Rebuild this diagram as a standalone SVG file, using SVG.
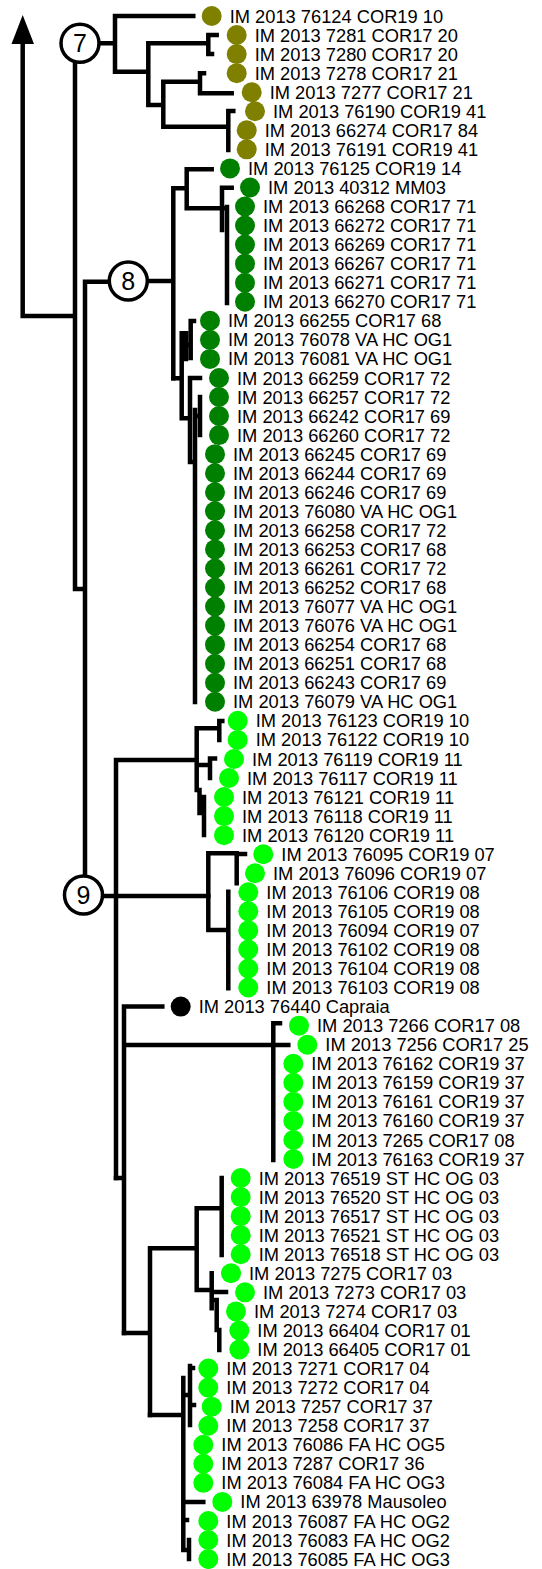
<svg xmlns="http://www.w3.org/2000/svg" width="542" height="1569" viewBox="0 0 542 1569">
<style>
.e{fill:none;stroke:#000;stroke-width:4.5;stroke-linecap:square}
.t{font-family:"Liberation Sans",Arial,sans-serif;font-size:18.3px;fill:#000}
.o{fill:#808000}.g{fill:#008000}.l{fill:#00ff00}.k{fill:#000}
.n circle{fill:#fff;stroke:#000;stroke-width:3.5}
.n text{font-family:"Liberation Sans",Arial,sans-serif;font-size:25px;text-anchor:middle;fill:#000}
</style>
<rect width="542" height="1569" fill="#fff"/>
<g id="connectors" class="e">
<path d="M22.7 316V42M22.7 316H75M75 60V589H85M85 281.7V878M85 281.7H110"/>
<polygon points="22.7,15 11.5,44 34,44" fill="#000" stroke="none"/>
<path d="M80 43.3H115M115 16V71.7M115 16H193.3M115 71.7H148.3M148.3 43.3V105M148.3 43.3H208.3M208.3 35V54.1M208.3 35H216.7M208.3 54.1H212M148.3 105H163.3M163.3 81.7V126.7M163.3 81.7H200M200 73.2V93.3M200 73.2H204M200 93.3H231.7M163.3 126.7H228.3M228.3 111V150M228.3 111H233.3"/>
<path d="M128 281H173.3M173.3 188.3V378.3M173.3 188.3H186.7M186.7 169.3V208.3M186.7 169.3H211.7M186.7 208.3H225M222 187.7V230M222 187.7H231.7M227 207V303"/>
<path d="M173.3 378.3H181.7M181.7 333.3V418.3M181.7 333.3H186M186 333.3V359M190.7 321V358M186 345H190.7M190.7 321H194M181.7 418.3H190M190 378V462M190 378H200M190 462H195M195 410V702M200 397V435M195 416H200"/>
<path d="M83 896H208.3M116 760V1178M116 760H196.7M196.7 728.3V790M196.7 728.3H219.3M219.3 721V740M219.3 721H222.3M196.7 765H210M210 758.5V778M210 758.5H215M196.7 790H199.5M199.5 790V813M204 797V835M199.5 805H204"/>
<path d="M208.3 853.3V930M208.3 853.3H236.7M236.7 853.3V883.3M236.7 854H245M208.3 930H228.3M228.3 891.7V988.3"/>
<path d="M116 1178H124M124 1006.6V1333M124 1006.6H162.3M124 1045H288.3M273.3 1023.3V1160M273.3 1023.3H280"/>
<path d="M124 1333H150M150 1248.3V1415M150 1248.3H196.7M196.7 1208.3V1290M196.7 1208.3H221.7M221.7 1178V1255M196.7 1290H211.7M211.7 1273.3V1308.3M211.7 1292H226M216.7 1300V1330M211.7 1300H216.7M219.3 1330V1350M216.7 1330H219.3"/>
<path d="M150 1415H183.3M183.3 1378V1550M190 1366V1425M183.3 1395H190M190 1368H193M190 1405H194M183.3 1502H203.3M183.3 1520H187M189 1540V1559M183.3 1550H189"/>
</g>
<g id="node7" class="n"><circle cx="80" cy="43.3" r="19"/><text x="80" y="52.3">7</text></g>
<g id="node8" class="n"><circle cx="128.3" cy="281" r="19"/><text x="128.3" y="290">8</text></g>
<g id="node9" class="n"><circle cx="83.5" cy="895" r="19"/><text x="83.5" y="904">9</text></g>
<g id="tip1"><circle class="o" cx="211.7" cy="16" r="10"/><text class="t" x="229.7" y="22.55">IM 2013 76124 COR19 10</text></g>
<g id="tip2"><circle class="o" cx="236.7" cy="35.05" r="10"/><text class="t" x="254.7" y="41.6">IM 2013 7281 COR17 20</text></g>
<g id="tip3"><circle class="o" cx="236.7" cy="54.1" r="10"/><text class="t" x="254.7" y="60.65">IM 2013 7280 COR17 20</text></g>
<g id="tip4"><circle class="o" cx="236.7" cy="73.15" r="10"/><text class="t" x="254.7" y="79.7">IM 2013 7278 COR17 21</text></g>
<g id="tip5"><circle class="o" cx="251.7" cy="92.2" r="10"/><text class="t" x="269.7" y="98.75">IM 2013 7277 COR17 21</text></g>
<g id="tip6"><circle class="o" cx="255" cy="111.25" r="10"/><text class="t" x="273" y="117.8">IM 2013 76190 COR19 41</text></g>
<g id="tip7"><circle class="o" cx="246.7" cy="130.3" r="10"/><text class="t" x="264.7" y="136.85">IM 2013 66274 COR17 84</text></g>
<g id="tip8"><circle class="o" cx="246.7" cy="149.35" r="10"/><text class="t" x="264.7" y="155.9">IM 2013 76191 COR19 41</text></g>
<g id="tip9"><circle class="g" cx="230" cy="168.4" r="10"/><text class="t" x="248" y="174.95">IM 2013 76125 COR19 14</text></g>
<g id="tip10"><circle class="g" cx="250" cy="187.45" r="10"/><text class="t" x="268" y="194">IM 2013 40312 MM03</text></g>
<g id="tip11"><circle class="g" cx="245" cy="206.5" r="10"/><text class="t" x="263" y="213.05">IM 2013 66268 COR17 71</text></g>
<g id="tip12"><circle class="g" cx="245" cy="225.55" r="10"/><text class="t" x="263" y="232.1">IM 2013 66272 COR17 71</text></g>
<g id="tip13"><circle class="g" cx="245" cy="244.6" r="10"/><text class="t" x="263" y="251.15">IM 2013 66269 COR17 71</text></g>
<g id="tip14"><circle class="g" cx="245" cy="263.65" r="10"/><text class="t" x="263" y="270.2">IM 2013 66267 COR17 71</text></g>
<g id="tip15"><circle class="g" cx="245" cy="282.7" r="10"/><text class="t" x="263" y="289.25">IM 2013 66271 COR17 71</text></g>
<g id="tip16"><circle class="g" cx="245" cy="301.75" r="10"/><text class="t" x="263" y="308.3">IM 2013 66270 COR17 71</text></g>
<g id="tip17"><circle class="g" cx="210" cy="320.8" r="10"/><text class="t" x="228" y="327.35">IM 2013 66255 COR17 68</text></g>
<g id="tip18"><circle class="g" cx="210" cy="339.85" r="10"/><text class="t" x="228" y="346.4">IM 2013 76078 VA HC OG1</text></g>
<g id="tip19"><circle class="g" cx="210" cy="358.9" r="10"/><text class="t" x="228" y="365.45">IM 2013 76081 VA HC OG1</text></g>
<g id="tip20"><circle class="g" cx="219" cy="377.95" r="10"/><text class="t" x="237" y="384.5">IM 2013 66259 COR17 72</text></g>
<g id="tip21"><circle class="g" cx="219" cy="397" r="10"/><text class="t" x="237" y="403.55">IM 2013 66257 COR17 72</text></g>
<g id="tip22"><circle class="g" cx="219" cy="416.05" r="10"/><text class="t" x="237" y="422.6">IM 2013 66242 COR17 69</text></g>
<g id="tip23"><circle class="g" cx="219" cy="435.1" r="10"/><text class="t" x="237" y="441.65">IM 2013 66260 COR17 72</text></g>
<g id="tip24"><circle class="g" cx="215" cy="454.15" r="10"/><text class="t" x="233" y="460.7">IM 2013 66245 COR17 69</text></g>
<g id="tip25"><circle class="g" cx="215" cy="473.2" r="10"/><text class="t" x="233" y="479.75">IM 2013 66244 COR17 69</text></g>
<g id="tip26"><circle class="g" cx="215" cy="492.25" r="10"/><text class="t" x="233" y="498.8">IM 2013 66246 COR17 69</text></g>
<g id="tip27"><circle class="g" cx="215" cy="511.3" r="10"/><text class="t" x="233" y="517.85">IM 2013 76080 VA HC OG1</text></g>
<g id="tip28"><circle class="g" cx="215" cy="530.35" r="10"/><text class="t" x="233" y="536.9">IM 2013 66258 COR17 72</text></g>
<g id="tip29"><circle class="g" cx="215" cy="549.4" r="10"/><text class="t" x="233" y="555.95">IM 2013 66253 COR17 68</text></g>
<g id="tip30"><circle class="g" cx="215" cy="568.45" r="10"/><text class="t" x="233" y="575">IM 2013 66261 COR17 72</text></g>
<g id="tip31"><circle class="g" cx="215" cy="587.5" r="10"/><text class="t" x="233" y="594.05">IM 2013 66252 COR17 68</text></g>
<g id="tip32"><circle class="g" cx="215" cy="606.55" r="10"/><text class="t" x="233" y="613.1">IM 2013 76077 VA HC OG1</text></g>
<g id="tip33"><circle class="g" cx="215" cy="625.6" r="10"/><text class="t" x="233" y="632.15">IM 2013 76076 VA HC OG1</text></g>
<g id="tip34"><circle class="g" cx="215" cy="644.65" r="10"/><text class="t" x="233" y="651.2">IM 2013 66254 COR17 68</text></g>
<g id="tip35"><circle class="g" cx="215" cy="663.7" r="10"/><text class="t" x="233" y="670.25">IM 2013 66251 COR17 68</text></g>
<g id="tip36"><circle class="g" cx="215" cy="682.75" r="10"/><text class="t" x="233" y="689.3">IM 2013 66243 COR17 69</text></g>
<g id="tip37"><circle class="g" cx="215" cy="701.8" r="10"/><text class="t" x="233" y="708.35">IM 2013 76079 VA HC OG1</text></g>
<g id="tip38"><circle class="l" cx="237.7" cy="720.85" r="10"/><text class="t" x="255.7" y="727.4">IM 2013 76123 COR19 10</text></g>
<g id="tip39"><circle class="l" cx="237.7" cy="739.9" r="10"/><text class="t" x="255.7" y="746.45">IM 2013 76122 COR19 10</text></g>
<g id="tip40"><circle class="l" cx="234" cy="758.95" r="10"/><text class="t" x="252" y="765.5">IM 2013 76119 COR19 11</text></g>
<g id="tip41"><circle class="l" cx="229" cy="778" r="10"/><text class="t" x="247" y="784.55">IM 2013 76117 COR19 11</text></g>
<g id="tip42"><circle class="l" cx="224" cy="797.05" r="10"/><text class="t" x="242" y="803.6">IM 2013 76121 COR19 11</text></g>
<g id="tip43"><circle class="l" cx="224" cy="816.1" r="10"/><text class="t" x="242" y="822.65">IM 2013 76118 COR19 11</text></g>
<g id="tip44"><circle class="l" cx="224" cy="835.15" r="10"/><text class="t" x="242" y="841.7">IM 2013 76120 COR19 11</text></g>
<g id="tip45"><circle class="l" cx="263.3" cy="854.2" r="10"/><text class="t" x="281.3" y="860.75">IM 2013 76095 COR19 07</text></g>
<g id="tip46"><circle class="l" cx="255" cy="873.25" r="10"/><text class="t" x="273" y="879.8">IM 2013 76096 COR19 07</text></g>
<g id="tip47"><circle class="l" cx="248.3" cy="892.3" r="10"/><text class="t" x="266.3" y="898.85">IM 2013 76106 COR19 08</text></g>
<g id="tip48"><circle class="l" cx="248.3" cy="911.35" r="10"/><text class="t" x="266.3" y="917.9">IM 2013 76105 COR19 08</text></g>
<g id="tip49"><circle class="l" cx="248.3" cy="930.4" r="10"/><text class="t" x="266.3" y="936.95">IM 2013 76094 COR19 07</text></g>
<g id="tip50"><circle class="l" cx="248.3" cy="949.45" r="10"/><text class="t" x="266.3" y="956">IM 2013 76102 COR19 08</text></g>
<g id="tip51"><circle class="l" cx="248.3" cy="968.5" r="10"/><text class="t" x="266.3" y="975.05">IM 2013 76104 COR19 08</text></g>
<g id="tip52"><circle class="l" cx="248.3" cy="987.55" r="10"/><text class="t" x="266.3" y="994.1">IM 2013 76103 COR19 08</text></g>
<g id="tip53"><circle class="k" cx="180.7" cy="1006.6" r="10"/><text class="t" x="198.7" y="1013.15">IM 2013 76440 Capraia</text></g>
<g id="tip54"><circle class="l" cx="299" cy="1025.65" r="10"/><text class="t" x="317" y="1032.2">IM 2013 7266 COR17 08</text></g>
<g id="tip55"><circle class="l" cx="307.3" cy="1044.7" r="10"/><text class="t" x="325.3" y="1051.25">IM 2013 7256 COR17 25</text></g>
<g id="tip56"><circle class="l" cx="293.3" cy="1063.75" r="10"/><text class="t" x="311.3" y="1070.3">IM 2013 76162 COR19 37</text></g>
<g id="tip57"><circle class="l" cx="293.3" cy="1082.8" r="10"/><text class="t" x="311.3" y="1089.35">IM 2013 76159 COR19 37</text></g>
<g id="tip58"><circle class="l" cx="293.3" cy="1101.85" r="10"/><text class="t" x="311.3" y="1108.4">IM 2013 76161 COR19 37</text></g>
<g id="tip59"><circle class="l" cx="293.3" cy="1120.9" r="10"/><text class="t" x="311.3" y="1127.45">IM 2013 76160 COR19 37</text></g>
<g id="tip60"><circle class="l" cx="293.3" cy="1139.95" r="10"/><text class="t" x="311.3" y="1146.5">IM 2013 7265 COR17 08</text></g>
<g id="tip61"><circle class="l" cx="293.3" cy="1159" r="10"/><text class="t" x="311.3" y="1165.55">IM 2013 76163 COR19 37</text></g>
<g id="tip62"><circle class="l" cx="240.7" cy="1178.05" r="10"/><text class="t" x="258.7" y="1184.6">IM 2013 76519 ST HC OG 03</text></g>
<g id="tip63"><circle class="l" cx="240.7" cy="1197.1" r="10"/><text class="t" x="258.7" y="1203.65">IM 2013 76520 ST HC OG 03</text></g>
<g id="tip64"><circle class="l" cx="240.7" cy="1216.15" r="10"/><text class="t" x="258.7" y="1222.7">IM 2013 76517 ST HC OG 03</text></g>
<g id="tip65"><circle class="l" cx="240.7" cy="1235.2" r="10"/><text class="t" x="258.7" y="1241.75">IM 2013 76521 ST HC OG 03</text></g>
<g id="tip66"><circle class="l" cx="240.7" cy="1254.25" r="10"/><text class="t" x="258.7" y="1260.8">IM 2013 76518 ST HC OG 03</text></g>
<g id="tip67"><circle class="l" cx="231" cy="1273.3" r="10"/><text class="t" x="249" y="1279.85">IM 2013 7275 COR17 03</text></g>
<g id="tip68"><circle class="l" cx="245" cy="1292.35" r="10"/><text class="t" x="263" y="1298.9">IM 2013 7273 COR17 03</text></g>
<g id="tip69"><circle class="l" cx="236" cy="1311.4" r="10"/><text class="t" x="254" y="1317.95">IM 2013 7274 COR17 03</text></g>
<g id="tip70"><circle class="l" cx="239.3" cy="1330.45" r="10"/><text class="t" x="257.3" y="1337">IM 2013 66404 COR17 01</text></g>
<g id="tip71"><circle class="l" cx="239.3" cy="1349.5" r="10"/><text class="t" x="257.3" y="1356.05">IM 2013 66405 COR17 01</text></g>
<g id="tip72"><circle class="l" cx="208.3" cy="1368.55" r="10"/><text class="t" x="226.3" y="1375.1">IM 2013 7271 COR17 04</text></g>
<g id="tip73"><circle class="l" cx="208.3" cy="1387.6" r="10"/><text class="t" x="226.3" y="1394.15">IM 2013 7272 COR17 04</text></g>
<g id="tip74"><circle class="l" cx="211.7" cy="1406.65" r="10"/><text class="t" x="229.7" y="1413.2">IM 2013 7257 COR17 37</text></g>
<g id="tip75"><circle class="l" cx="208.3" cy="1425.7" r="10"/><text class="t" x="226.3" y="1432.25">IM 2013 7258 COR17 37</text></g>
<g id="tip76"><circle class="l" cx="203.3" cy="1444.75" r="10"/><text class="t" x="221.3" y="1451.3">IM 2013 76086 FA HC OG5</text></g>
<g id="tip77"><circle class="l" cx="203.3" cy="1463.8" r="10"/><text class="t" x="221.3" y="1470.35">IM 2013 7287 COR17 36</text></g>
<g id="tip78"><circle class="l" cx="203.3" cy="1482.85" r="10"/><text class="t" x="221.3" y="1489.4">IM 2013 76084 FA HC OG3</text></g>
<g id="tip79"><circle class="l" cx="222.3" cy="1501.9" r="10"/><text class="t" x="240.3" y="1508.45">IM 2013 63978 Mausoleo</text></g>
<g id="tip80"><circle class="l" cx="208.3" cy="1520.95" r="10"/><text class="t" x="226.3" y="1527.5">IM 2013 76087 FA HC OG2</text></g>
<g id="tip81"><circle class="l" cx="208.3" cy="1540" r="10"/><text class="t" x="226.3" y="1546.55">IM 2013 76083 FA HC OG2</text></g>
<g id="tip82"><circle class="l" cx="208.3" cy="1559.05" r="10"/><text class="t" x="226.3" y="1565.6">IM 2013 76085 FA HC OG3</text></g>
</svg>
